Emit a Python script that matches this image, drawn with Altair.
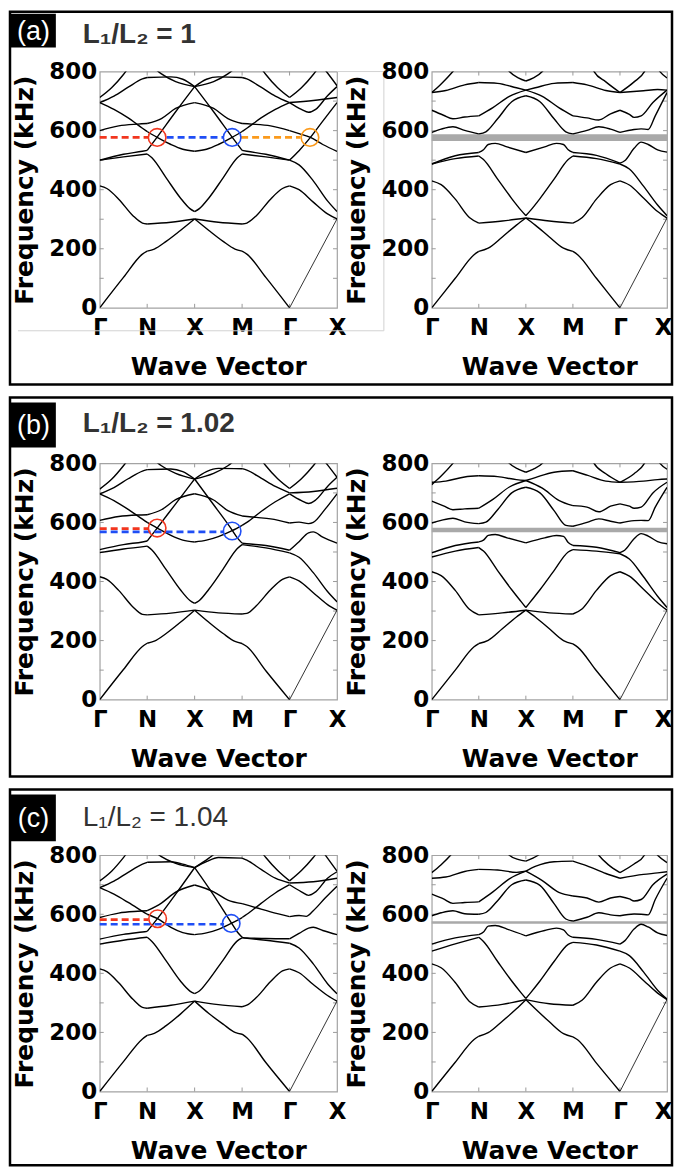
import altair as alt
import pandas as pd

# ---------------- labels / text ----------------
X_LABELS = ["Γ", "N", "X", "M", "Γ", "X"]
X_LABEL_VALUES = [0, 1, 2, 3, 4, 5]
Y_LABEL_VALUES = [0, 200, 400, 600, 800]
Y_TICK_VALUES = [100, 200, 300, 400, 500, 600, 700]
X_TICK_VALUES = [1, 2, 3, 4]
ROW_LETTERS = ["(a)", "(b)", "(c)"]
ROW_TITLES = ["L₁/L₂ = 1", "L₁/L₂ = 1.02", "L₁/L₂ = 1.04"]
ROW_TITLE_WEIGHTS = ["bold", "bold", "normal"]
Y_TITLE = "Frequency (kHz)"
X_TITLE = "Wave Vector"

# ---------------- (a) left : bands [x (path units), kHz] ----------------
A_L_B1 = [[0,0],[0.5,103],[0.9,182],[1,192],[1.15,199],[1.4,225],[1.7,262],[2,301],[2.3,262],[2.6,225],[2.85,199],[3,192],[3.1,182],[3.5,103],[4,0]]
A_L_THIN = [[4,0],[5,301]]
A_L_B2 = [[0,413],[0.15,404],[0.4,368],[0.7,312],[0.9,287],[1,284],[1.5,290],[2,301],[2.5,290],[3,284],[3.1,287],[3.3,312],[3.6,368],[3.85,404],[4,413],[4.2,400],[4.5,358],[4.8,318],[5,301]]
A_L_B3 = [[0,500],[0.5,511],[1,521],[1.1,508],[1.4,440],[1.7,372],[1.9,336],[2,326],[2.1,336],[2.3,372],[2.6,440],[2.9,508],[3,521],[3.5,511],[4,500],[4.2,484],[4.5,430],[4.8,362],[5,326]]
A_L_B4 = [[0,500],[0.5,520],[0.9,530],[1,533],[1.21,578],[1.6,664],[2,749],[2.4,664],[2.79,578],[3,533],[3.1,530],[3.5,520],[4,500],[4.2,532],[4.44,577],[4.7,632],[5,695]]
A_L_B5 = [[0,695],[0.3,672],[0.6,643],[0.9,608],[1,597],[1.21,577],[1.5,553],[1.75,537],[2,530],[2.25,537],[2.5,553],[2.79,577],[3,597],[3.1,608],[3.4,643],[3.7,672],[4,695],[4.25,672],[4.4,662],[4.55,672],[4.8,718],[5,749]]
A_L_B6 = [[0,600],[0.4,616],[0.8,622],[1,624],[1.3,641],[1.6,675],[2,695],[2.4,675],[2.7,641],[3,624],[3.2,622],[3.6,616],[4,600],[4.2,590],[4.44,577],[4.7,553],[5,530]]
A_L_B7 = [[0,695],[0.3,717],[0.6,747],[0.9,775],[1,780],[1.5,782],[1.75,774],[2,749],[2.25,774],[2.5,782],[3,780],[3.1,775],[3.4,747],[3.7,717],[4,695],[4.5,702],[5,712]]
A_L_B8 = [[0,712],[0.25,745],[0.5,790],[0.7,835]]
A_L_B9 = [[3.3,835],[3.5,790],[3.75,745],[4,712],[4.25,745],[4.5,790],[4.7,835]]
A_L_B10 = [[1.1,818],[1.3,792],[1.6,766],[2,749],[2.4,766],[2.7,792],[2.9,818]]
A_L_B11 = [[4.6,835],[4.8,795],[5,752]]
A_L_DASHES = [[0, 1.02, 577, "#f2361e"], [1.41, 2.6, 577, "#1f4ef5"], [2.98, 4.23, 577, "#fb9a1b"]]
A_L_CIRCLES = [[1.21, 577, "#f2361e"], [2.79, 577, "#1f4ef5"], [4.43, 577, "#fb9a1b"]]

# ---------------- (a) right ----------------
A_R_B1 = [[0,0],[0.5,100],[0.9,180],[1,191],[1.2,202],[1.5,240],[1.8,280],[2,304],[2.2,280],[2.5,240],[2.8,202],[3,191],[3.1,180],[3.5,100],[4,0]]
A_R_THIN = [[4,0],[5,304]]
A_R_B2 = [[0,430],[0.2,417],[0.5,368],[0.8,306],[1,287],[1.5,294],[2,304],[2.5,294],[3,287],[3.2,306],[3.5,368],[3.8,417],[4,430],[4.2,416],[4.5,372],[4.8,326],[5,304]]
A_R_B3 = [[0,487],[0.5,505],[1,514],[1.1,502],[1.4,436],[1.7,370],[1.9,330],[2,312],[2.1,330],[2.3,370],[2.6,436],[2.9,502],[3,514],[3.5,505],[4,487],[4.2,470],[4.5,412],[4.8,348],[5,312]]
A_R_B4 = [[0,487],[0.5,515],[1,526],[1.1,535],[1.2,553],[1.35,557],[1.6,545],[2,526],[2.4,545],[2.65,557],[2.8,553],[2.9,535],[3,526],[3.5,516],[4,490],[4.1,498],[4.3,540],[4.45,561],[4.6,553],[4.8,535],[5,527]]
A_R_B5 = [[0,594],[0.2,605],[0.45,613],[0.7,601],[1,589],[1.15,596],[1.4,640],[1.7,698],[2,718],[2.3,698],[2.6,640],[2.85,596],[3,589],[3.3,601],[3.55,613],[3.8,605],[4,594],[4.3,604],[4.45,606],[4.6,604],[4.75,650],[5,729]]
A_R_B6 = [[0,669],[0.25,652],[0.45,640],[0.7,646],[1,650],[1.3,678],[1.65,716],[2,737],[2.35,716],[2.7,678],[3,650],[3.3,643],[3.55,636],[3.8,657],[4,669],[4.2,655],[4.3,645],[4.45,650],[4.7,695],[5,737]]
A_R_B7 = [[0,729],[0.3,736],[0.7,755],[1,763],[1.4,760],[1.8,745],[2,737],[2.2,745],[2.6,760],[3,763],[3.3,755],[3.7,736],[4,729],[4.5,735],[4.8,739],[5,737]]
A_R_B8 = [[0,729],[0.2,758],[0.45,800],[0.6,830]]
A_R_B9 = [[1.5,835],[1.65,800],[1.85,778],[2,768],[2.15,778],[2.35,800],[2.5,835]]
A_R_B10 = [[3.35,835],[3.45,800],[3.7,765],[4,729],[4.3,765],[4.52,800],[4.62,835]]
A_R_B11 = [[4.7,840],[4.85,800],[5,778]]
A_R_GAP = [565, 588]

# ---------------- (b) left ----------------
B_L_B1 = [[0,0],[0.5,102],[0.9,180],[1,191],[1.15,198],[1.4,224],[1.7,262],[2,303],[2.3,262],[2.6,224],[2.85,197],[3,190],[3.1,180],[3.5,98],[4,0]]
B_L_THIN = [[4,0],[5,303]]
B_L_B2 = [[0,416],[0.15,407],[0.4,370],[0.7,314],[0.9,289],[1,287],[1.5,293],[2,303],[2.5,294],[3,290],[3.1,292],[3.3,318],[3.6,372],[3.85,407],[4,416],[4.2,402],[4.5,362],[4.8,322],[5,303]]
B_L_B3 = [[0,498],[0.5,510],[1,520],[1.1,507],[1.4,440],[1.7,372],[1.9,336],[2,326],[2.1,336],[2.3,374],[2.6,442],[2.9,512],[3,525],[3.5,514],[4,497],[4.2,482],[4.5,430],[4.8,366],[5,331]]
B_L_B4 = [[0,508],[0.5,525],[0.9,534],[1,537],[1.21,581],[1.6,663],[2,747],[2.4,660],[2.79,574],[2.9,548],[3,530],[3.1,528],[3.5,522],[4,506],[4.2,535],[4.4,565],[4.5,568],[4.7,550],[5,530]]
B_L_B5 = [[0,697],[0.3,674],[0.6,644],[0.9,611],[1,600],[1.21,581],[1.5,556],[1.75,540],[2,534],[2.25,540],[2.5,552],[2.79,572],[3,590],[3.1,600],[3.4,637],[3.7,670],[4,697],[4.25,674],[4.4,664],[4.55,676],[4.8,722],[5,753]]
B_L_B6 = [[0,607],[0.4,620],[0.8,625],[1,626],[1.3,643],[1.6,677],[2,697],[2.4,676],[2.7,640],[3,622],[3.3,617],[3.6,612],[4,598],[4.2,601],[4.4,596],[4.5,600],[4.75,645],[5,697]]
B_L_B7 = [[0,697],[0.3,718],[0.6,748],[0.9,774],[1,779],[1.5,781],[1.75,772],[2,747],[2.25,772],[2.5,783],[3,782],[3.1,777],[3.4,750],[3.7,722],[4,700],[4.5,705],[5,716]]
B_L_B8 = [[0,713],[0.25,746],[0.5,792],[0.7,835]]
B_L_B9 = [[3.3,835],[3.5,792],[3.75,748],[4,715],[4.25,748],[4.5,792],[4.7,835]]
B_L_B10 = [[1.1,818],[1.3,792],[1.6,766],[2,747],[2.4,766],[2.7,792],[2.9,818]]
B_L_B11 = [[4.6,835],[4.8,795],[5,753]]
B_L_DASHES = [[0, 1.02, 579, "#f2361e"], [0, 2.62, 568, "#1f4ef5"]]
B_L_CIRCLES = [[1.21, 581, "#f2361e"], [2.79, 571, "#1f4ef5"]]

# ---------------- (b) right ----------------
B_R_B1 = [[0,0],[0.5,100],[0.9,179],[1,190],[1.2,201],[1.5,240],[1.8,280],[2,303],[2.2,280],[2.5,240],[2.8,200],[3,189],[3.1,178],[3.5,98],[4,0]]
B_R_THIN = [[4,0],[5,303]]
B_R_B2 = [[0,433],[0.2,420],[0.5,370],[0.8,306],[1,287],[1.5,294],[2,303],[2.5,294],[3,290],[3.2,308],[3.5,370],[3.8,420],[4,433],[4.2,418],[4.5,374],[4.8,328],[5,303]]
B_R_B3 = [[0,483],[0.5,503],[1,515],[1.1,503],[1.4,437],[1.7,372],[1.9,332],[2,312],[2.1,332],[2.3,372],[2.6,437],[2.9,500],[3,508],[3.5,503],[4,494],[4.2,476],[4.5,416],[4.8,350],[5,312]]
B_R_B4 = [[0,497],[0.5,522],[1,534],[1.1,540],[1.2,556],[1.35,559],[1.6,548],[2,531],[2.4,548],[2.65,556],[2.8,553],[2.9,532],[3,522],[3.5,516],[4,498],[4.1,506],[4.3,545],[4.45,562],[4.6,554],[4.8,535],[5,528]]
B_R_B5 = [[0,598],[0.2,607],[0.45,614],[0.7,602],[1,596],[1.15,601],[1.4,643],[1.7,700],[2,719],[2.3,700],[2.6,640],[2.85,590],[3,587],[3.3,600],[3.55,612],[3.8,604],[4,598],[4.3,606],[4.45,607],[4.6,606],[4.75,652],[5,719]]
B_R_B6 = [[0,672],[0.25,656],[0.45,643],[0.7,646],[1,648],[1.3,678],[1.65,720],[2,742],[2.35,716],[2.7,675],[3,657],[3.3,652],[3.55,636],[3.8,655],[4,663],[4.2,655],[4.3,648],[4.45,652],[4.7,700],[5,736]]
B_R_B7 = [[0,736],[0.3,740],[0.7,754],[1,758],[1.4,755],[1.8,745],[2,742],[2.2,752],[2.6,770],[3,775],[3.3,760],[3.7,740],[4,736],[4.5,740],[4.8,745],[5,747]]
B_R_B8 = [[0,728],[0.2,757],[0.45,800],[0.6,830]]
B_R_B9 = [[1.5,835],[1.65,800],[1.85,780],[2,770],[2.15,780],[2.35,800],[2.5,835]]
B_R_B10 = [[3.35,835],[3.45,800],[3.7,765],[4,736],[4.3,765],[4.52,800],[4.62,835]]
B_R_B11 = [[4.7,840],[4.85,800],[5,780]]
B_R_GAP = [567, 582]

# ---------------- (c) left ----------------
C_L_B1 = [[0,0],[0.5,101],[0.9,178],[1,190],[1.15,197],[1.4,223],[1.7,262],[2,306],[2.3,264],[2.6,228],[2.85,200],[3,194],[3.1,182],[3.5,98],[4,0]]
C_L_THIN = [[4,0],[5,306]]
C_L_B2 = [[0,415],[0.15,406],[0.4,368],[0.7,312],[0.9,285],[1,282],[1.5,292],[2,306],[2.5,294],[3,287],[3.1,292],[3.3,318],[3.6,372],[3.85,408],[4,415],[4.2,402],[4.5,362],[4.8,325],[5,306]]
C_L_B3 = [[0,499],[0.5,512],[1,522],[1.1,508],[1.4,442],[1.7,374],[1.9,340],[2,331],[2.1,340],[2.3,378],[2.6,445],[2.9,510],[3,520],[3.5,512],[4,502],[4.2,486],[4.5,432],[4.8,365],[5,331]]
C_L_B4 = [[0,516],[0.5,532],[0.9,540],[1,542],[1.22,586],[1.6,668],[2,758],[2.4,665],[2.77,572],[2.9,540],[3,522],[3.1,520],[3.5,518],[4,517],[4.2,535],[4.4,553],[4.5,556],[4.7,545],[5,531]]
C_L_B5 = [[0,690],[0.3,668],[0.6,640],[0.9,610],[1,600],[1.22,585],[1.5,556],[1.75,538],[2,531],[2.25,537],[2.5,549],[2.77,569],[3,589],[3.1,600],[3.4,637],[3.7,672],[4,700],[4.25,676],[4.4,664],[4.55,676],[4.8,722],[5,744]]
C_L_B6 = [[0,589],[0.4,604],[0.8,610],[1,612],[1.3,638],[1.6,675],[2,699],[2.4,676],[2.7,648],[3,636],[3.3,622],[3.6,608],[4,592],[4.2,596],[4.35,593],[4.5,612],[4.75,655],[5,695]]
C_L_B7 = [[0,690],[0.3,712],[0.6,742],[0.9,770],[1,776],[1.5,778],[1.75,770],[2,758],[2.25,778],[2.5,792],[3,790],[3.1,783],[3.4,752],[3.7,722],[4,706],[4.5,710],[5,722]]
C_L_B8 = [[0,713],[0.25,746],[0.5,792],[0.7,835]]
C_L_B9 = [[3.3,835],[3.5,792],[3.75,748],[4,713],[4.25,748],[4.5,792],[4.7,835]]
C_L_B10 = [[1.1,820],[1.3,795],[1.6,772],[2,758],[2.3,790],[2.5,815]]
C_L_B11 = [[4.6,835],[4.8,790],[5,746]]
C_L_DASHES = [[0, 1.03, 582, "#f2361e"], [0, 2.62, 566, "#1f4ef5"]]
C_L_CIRCLES = [[1.22, 585, "#f2361e"], [2.77, 569, "#1f4ef5"]]

# ---------------- (c) right ----------------
C_R_B1 = [[0,0],[0.5,99],[0.9,176],[1,187],[1.2,199],[1.5,238],[1.8,280],[2,311],[2.2,280],[2.5,236],[2.8,196],[3,185],[3.1,175],[3.5,96],[4,0]]
C_R_THIN = [[4,0],[5,311]]
C_R_B2 = [[0,432],[0.2,419],[0.5,369],[0.8,305],[1,286],[1.5,295],[2,311],[2.5,297],[3,292],[3.2,310],[3.5,370],[3.8,418],[4,432],[4.2,418],[4.5,376],[4.8,333],[5,311]]
C_R_B3 = [[0,475],[0.5,500],[1,522],[1.1,508],[1.4,440],[1.7,374],[1.9,334],[2,315],[2.1,334],[2.3,374],[2.6,440],[2.9,498],[3,505],[3.5,496],[4,475],[4.2,460],[4.5,405],[4.8,343],[5,313]]
C_R_B4 = [[0,499],[0.5,520],[1,531],[1.1,540],[1.2,560],[1.35,562],[1.6,550],[2,527],[2.4,545],[2.65,553],[2.8,547],[2.9,530],[3,522],[3.5,515],[4,499],[4.1,510],[4.3,550],[4.45,566],[4.6,557],[4.8,537],[5,528]]
C_R_B5 = [[0,595],[0.2,605],[0.45,612],[0.7,602],[1,600],[1.15,606],[1.4,646],[1.7,700],[2,716],[2.3,698],[2.6,636],[2.85,584],[3,577],[3.3,590],[3.55,605],[3.8,598],[4,595],[4.3,601],[4.45,600],[4.6,598],[4.75,650],[5,722]]
C_R_B6 = [[0,668],[0.25,652],[0.45,637],[0.7,640],[1,642],[1.3,676],[1.65,720],[2,746],[2.35,714],[2.7,674],[3,662],[3.3,655],[3.55,641],[3.8,655],[4,660],[4.2,652],[4.3,645],[4.45,650],[4.7,700],[5,736]]
C_R_B7 = [[0,722],[0.3,726],[0.7,745],[1,752],[1.4,750],[1.8,742],[2,746],[2.2,762],[2.6,778],[3,780],[3.3,764],[3.7,738],[4,722],[4.5,735],[4.8,740],[5,744]]
C_R_B8 = [[0,741],[0.2,768],[0.4,800],[0.55,830]]
C_R_B9 = [[1.5,835],[1.65,800],[1.85,785],[2,780],[2.15,790],[2.35,810],[2.5,835]]
C_R_B10 = [[3.4,835],[3.55,800],[3.75,768],[4,741],[4.3,770],[4.52,800],[4.62,835]]
C_R_B11 = [[4.65,830],[4.8,800],[5,775]]
C_R_GAP = [568, 576]

A_L = [A_L_B1, A_L_B2, A_L_B3, A_L_B4, A_L_B5, A_L_B6, A_L_B7, A_L_B8, A_L_B9, A_L_B10, A_L_B11]
A_R = [A_R_B1, A_R_B2, A_R_B3, A_R_B4, A_R_B5, A_R_B6, A_R_B7, A_R_B8, A_R_B9, A_R_B10, A_R_B11]
B_L = [B_L_B1, B_L_B2, B_L_B3, B_L_B4, B_L_B5, B_L_B6, B_L_B7, B_L_B8, B_L_B9, B_L_B10, B_L_B11]
B_R = [B_R_B1, B_R_B2, B_R_B3, B_R_B4, B_R_B5, B_R_B6, B_R_B7, B_R_B8, B_R_B9, B_R_B10, B_R_B11]
C_L = [C_L_B1, C_L_B2, C_L_B3, C_L_B4, C_L_B5, C_L_B6, C_L_B7, C_L_B8, C_L_B9, C_L_B10, C_L_B11]
C_R = [C_R_B1, C_R_B2, C_R_B3, C_R_B4, C_R_B5, C_R_B6, C_R_B7, C_R_B8, C_R_B9, C_R_B10, C_R_B11]

# ---------------- layout (pixels) ----------------
WL, WR, H = 238, 236, 237
COL_GAP, ROW_GAP = 95, 156
FRAME_LEFT, FRAME_RIGHT = -90, 574
FRAME_TOP = [-60, -66, -66]
FRAME_BOTTOM = [314, 314, 74 + H - H + 74]
FRAME_BOTTOM = [314, 314, 311]
BOX_Y = [[-58, -24], [-61, -16], [-61, -14]]
TITLE_Y = [-29, -31, -29]

LABEL_FONT = "DejaVu Sans"
TEXT_FONT = "Liberation Sans"

XS = alt.Scale(domain=[0, 5], nice=False, zero=False)
YS = alt.Scale(domain=[0, 800], nice=False, zero=False)

ONE = pd.DataFrame({"a": [0]})


def seg_frame(bands):
    rows = []
    for bi, pts in enumerate(bands):
        for s in range(5):
            sp = [p for p in pts if s <= p[0] <= s + 1]
            if len(sp) < 2:
                continue
            for x, f in sp:
                rows.append({"k": f"{bi}_{s}", "x": x, "f": f})
    return pd.DataFrame(rows)


def x_axis(right):
    kw = {}
    if right:
        kw["labelAlign"] = {"condition": {"test": "datum.value == 5", "value": "right"}, "value": "center"}
        kw["labelOffset"] = {"condition": {"test": "datum.value == 5", "value": 5}, "value": 0}
    expr = "[" + ",".join(f"'{s}'" for s in X_LABELS) + "][datum.value]"
    return alt.Axis(values=X_LABEL_VALUES, labelExpr=expr, labelFlush=False, labelOverlap=False,
                    labelFont=LABEL_FONT, labelFontWeight="bold", labelFontSize=23, labelColor="black",
                    labelPadding=9, ticks=False, domain=False, grid=False,
                    title=X_TITLE, titleFont=LABEL_FONT, titleFontWeight="bold", titleFontSize=25,
                    titleColor="black", titleX=(WR if right else WL) / 2, titleY=67,
                    titleAlign="center", titleBaseline="alphabetic", **kw)


def y_axis():
    return alt.Axis(values=Y_LABEL_VALUES, labelFont=LABEL_FONT, labelFontWeight="bold", labelFontSize=23,
                    labelColor="black", labelPadding=3, ticks=False, domain=False, grid=False,
                    title=Y_TITLE, titleFont=LABEL_FONT, titleFontWeight="bold", titleFontSize=25,
                    titleColor="black", titleX=-67, titleY=H / 2, titleAngle=270,
                    titleAlign="center", titleBaseline="alphabetic")


def tick_layers(W):
    yt = pd.DataFrame({"f": Y_TICK_VALUES})
    xt = pd.DataFrame({"x": X_TICK_VALUES})
    tc = "#9a9a9a"
    return [
        alt.Chart(yt).mark_rule(color=tc, strokeWidth=1).encode(y=alt.Y("f:Q", scale=YS), x=alt.value(0), x2=alt.value(4)),
        alt.Chart(yt).mark_rule(color=tc, strokeWidth=1).encode(y=alt.Y("f:Q", scale=YS), x=alt.value(W - 4), x2=alt.value(W)),
        alt.Chart(xt).mark_rule(color=tc, strokeWidth=1).encode(x=alt.X("x:Q", scale=XS), y=alt.value(0), y2=alt.value(4)),
        alt.Chart(xt).mark_rule(color=tc, strokeWidth=1).encode(x=alt.X("x:Q", scale=XS), y=alt.value(H - 4), y2=alt.value(H)),
    ]


def band_layers(bands, thin, right):
    df = seg_frame(bands)
    tdf = pd.DataFrame({"x": [p[0] for p in thin], "f": [p[1] for p in thin]})
    main = alt.Chart(df).mark_line(color="black", strokeWidth=1.4, interpolate="monotone", clip=True).encode(
        x=alt.X("x:Q", scale=XS, axis=x_axis(right)),
        y=alt.Y("f:Q", scale=YS, axis=y_axis()),
        detail="k:N", order="x:Q")
    thin_l = alt.Chart(tdf).mark_line(color="black", strokeWidth=0.8, clip=True).encode(
        x=alt.X("x:Q", scale=XS), y=alt.Y("f:Q", scale=YS))
    return [main, thin_l]


def left_panel(r, bands, thin, dashes, circles, artifact):
    layers = []
    layers.append(alt.Chart(ONE).mark_rect(fillOpacity=0, stroke="black", strokeWidth=2.5).encode(
        x=alt.value(FRAME_LEFT), x2=alt.value(FRAME_RIGHT), y=alt.value(FRAME_TOP[r]), y2=alt.value(FRAME_BOTTOM[r])))
    layers.append(alt.Chart(ONE).mark_rect(color="black").encode(
        x=alt.value(-89), x2=alt.value(-44), y=alt.value(BOX_Y[r][0]), y2=alt.value(BOX_Y[r][1])))
    layers.append(alt.Chart(ONE).mark_text(text=ROW_LETTERS[r], color="white", font=TEXT_FONT, fontSize=27,
                                           align="center", baseline="middle").encode(
        x=alt.value(-66.5), y=alt.value((BOX_Y[r][0] + BOX_Y[r][1]) / 2 + 1)))
    layers.append(alt.Chart(ONE).mark_text(text=ROW_TITLES[r], color="#333333", font=TEXT_FONT, fontSize=28,
                                           fontWeight=ROW_TITLE_WEIGHTS[r], align="left", baseline="alphabetic").encode(
        x=alt.value(-17), y=alt.value(TITLE_Y[r])))
    if artifact:
        gc = "#d2d2d2"
        layers.append(alt.Chart(ONE).mark_rule(color=gc, strokeWidth=1).encode(
            x=alt.value(-82), x2=alt.value(285), y=alt.value(260)))
        layers.append(alt.Chart(ONE).mark_rule(color=gc, strokeWidth=1).encode(
            x=alt.value(285), y=alt.value(0), y2=alt.value(260)))
        layers.append(alt.Chart(ONE).mark_rule(color=gc, strokeWidth=1).encode(
            x=alt.value(WL), x2=alt.value(285), y=alt.value(0)))
    layers += tick_layers(WL)
    layers += band_layers(bands, thin, False)
    ddf = pd.DataFrame(dashes, columns=["x", "x2", "f", "c"])
    layers.append(alt.Chart(ddf).mark_rule(strokeDash=[7, 4], strokeWidth=2.6).encode(
        x=alt.X("x:Q", scale=XS), x2="x2:Q", y=alt.Y("f:Q", scale=YS), color=alt.Color("c:N", scale=None)))
    cdf = pd.DataFrame(circles, columns=["x", "f", "c"])
    layers.append(alt.Chart(cdf).mark_point(shape="circle", filled=False, size=310, strokeWidth=1.6, opacity=1).encode(
        x=alt.X("x:Q", scale=XS), y=alt.Y("f:Q", scale=YS), color=alt.Color("c:N", scale=None)))
    return alt.layer(*layers).properties(width=WL, height=H)


def right_panel(bands, thin, gap):
    layers = []
    gdf = pd.DataFrame({"f": [gap[0]], "f2": [gap[1]]})
    layers.append(alt.Chart(gdf).mark_rect(color="#a9a9a9").encode(
        y=alt.Y("f:Q", scale=YS), y2="f2:Q", x=alt.value(0), x2=alt.value(WR)))
    layers += tick_layers(WR)
    layers += band_layers(bands, thin, True)
    return alt.layer(*layers).properties(width=WR, height=H)


panels = [
    left_panel(0, A_L, A_L_THIN, A_L_DASHES, A_L_CIRCLES, True),
    right_panel(A_R, A_R_THIN, A_R_GAP),
    left_panel(1, B_L, B_L_THIN, B_L_DASHES, B_L_CIRCLES, False),
    right_panel(B_R, B_R_THIN, B_R_GAP),
    left_panel(2, C_L, C_L_THIN, C_L_DASHES, C_L_CIRCLES, False),
    right_panel(C_R, C_R_THIN, C_R_GAP),
]

chart = alt.concat(*panels, columns=2, spacing={"row": ROW_GAP, "column": COL_GAP}, bounds="flush").properties(
    padding=0
).configure_view(stroke="#a3a3a3", strokeWidth=1.2)

chart.save("out.html", embed_options={"renderer": "svg", "actions": False})
